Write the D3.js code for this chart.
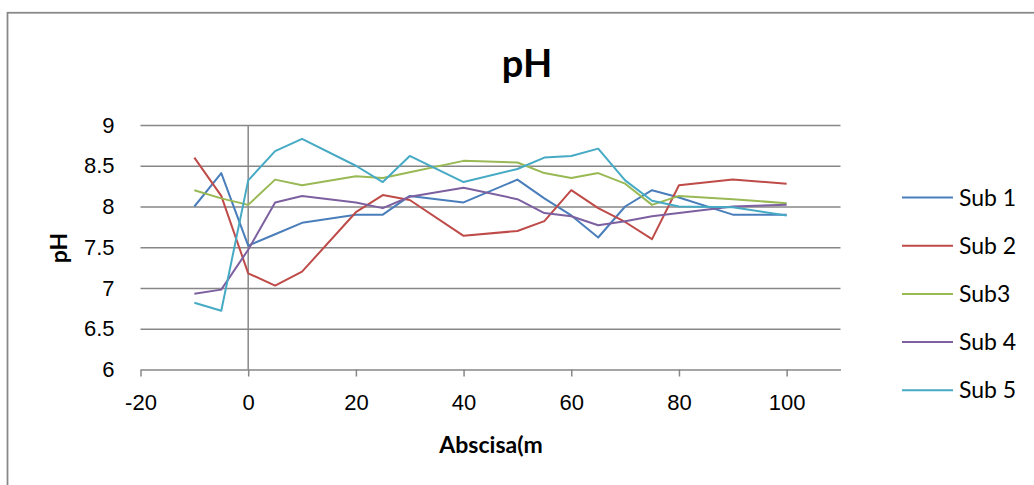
<!DOCTYPE html>
<html>
<head>
<meta charset="utf-8">
<script src="https://cdn.jsdelivr.net/npm/d3@7"></script>
<style>
  html, body { margin: 0; padding: 0; background: #fff; }
  svg { display: block; font-family: Lato, "Noto Sans", sans-serif; }
  .grid line { stroke: #878787; stroke-width: 1.5; }
  .grid .domain { display: none; }
  .axis text { font-size: 22px; fill: #000; }
  .axis line, .axis path { stroke: #878787; stroke-width: 1.5; }
</style>
</head>
<body>
<div id="chart"></div>
<script>
// abscisa (m) of the sampling points
const abscisa = [-10, -5, 0, 5, 10, 20, 25, 30, 40, 50, 55, 60, 65, 70, 75, 80, 90, 100];

const sub1 = [8.00, 8.41, 7.52, 7.66, 7.80, 7.90, 7.90, 8.13, 8.05, 8.33, 8.10, 7.89, 7.62, 8.00, 8.20, 8.11, 7.90, 7.90];
const sub2 = [8.60, 8.13, 7.18, 7.03, 7.20, 7.93, 8.14, 8.08, 7.64, 7.70, 7.82, 8.20, 7.98, 7.81, 7.60, 8.26, 8.33, 8.28];
const sub3 = [8.20, 8.10, 8.02, 8.33, 8.26, 8.37, 8.35, 8.42, 8.56, 8.54, 8.41, 8.35, 8.41, 8.28, 8.02, 8.13, 8.09, 8.04];
const sub4 = [6.93, 6.98, 7.47, 8.05, 8.13, 8.05, 7.98, 8.12, 8.23, 8.09, 7.92, 7.88, 7.77, 7.82, 7.88, 7.92, 8.00, 8.02];
const sub5 = [6.82, 6.72, 8.32, 8.68, 8.83, 8.50, 8.30, 8.62, 8.30, 8.46, 8.60, 8.62, 8.71, 8.32, 8.07, 8.00, 7.99, 7.89];

const seriesNames = ['Sub 1', 'Sub 2', 'Sub3', 'Sub 4', 'Sub 5'];
const seriesValues = [sub1, sub2, sub3, sub4, sub5];
const colors = ['#4a7ebb', '#be4b48', '#98b954', '#7d60a0', '#46aac5'];

const xTicks = [-20, 0, 20, 40, 60, 80, 100];
const yTicks = [6, 6.5, 7, 7.5, 8, 8.5, 9];

(function(){
  const W = 1034, H = 485;
  const plot = {left: 140.5, right: 840.5, top: 125, bottom: 369.5};

  const svg = d3.select('#chart').append('svg')
    .attr('width', W)
    .attr('height', H);

  // outer chart border (runs off the right and bottom edges)
  svg.append('rect')
    .attr('x', 7.5).attr('y', 12.75)
    .attr('width', 1100).attr('height', 600)
    .attr('fill', 'none')
    .attr('stroke', '#878787')
    .attr('stroke-width', 1.75);

  const x = d3.scaleLinear().domain([-20, 110]).range([plot.left, plot.right]);
  const y = d3.scaleLinear().domain([6, 9]).range([plot.bottom, plot.top]);

  // horizontal gridlines
  svg.append('g')
    .attr('class', 'grid')
    .attr('transform', 'translate(' + plot.left + ',0)')
    .call(d3.axisLeft(y)
      .tickValues(yTicks.filter(d => d > 6))
      .tickSize(-(plot.right - plot.left))
      .tickFormat(() => null)
    );

  // y labels sit on the low side, left of the plot area
  svg.append('g')
    .attr('class', 'axis axis--y')
    .attr('transform', 'translate(' + plot.left + ',0)')
    .call(d3.axisLeft(y)
      .tickValues(yTicks)
      .tickSize(0)
      .tickPadding(26)
      .tickFormat(d => String(d))
    )
    .call(g => g.select('.domain').remove());

  // vertical axis crossing at x = 0
  svg.append('line')
    .attr('x1', x(0)).attr('x2', x(0))
    .attr('y1', y(9)).attr('y2', plot.bottom)
    .attr('stroke', '#878787')
    .attr('stroke-width', 1.5);

  // x axis
  svg.append('g')
    .attr('class', 'axis axis--x')
    .attr('transform', 'translate(0,' + plot.bottom + ')')
    .call(d3.axisBottom(x)
      .tickValues(xTicks)
      .tickSize(7)
      .tickSizeOuter(0)
      .tickPadding(18)
      .tickFormat(d => String(d)) // plain hyphen, not the unicode minus
    );

  // series lines
  const line = d3.line()
    .x((d, i) => x(abscisa[i]))
    .y(d => y(d));

  svg.append('g')
    .attr('class', 'series')
    .selectAll('path')
    .data(seriesValues)
    .enter().append('path')
      .attr('d', line)
      .attr('fill', 'none')
      .attr('stroke', (d, i) => colors[i])
      .attr('stroke-width', 2)
      .attr('stroke-linejoin', 'round');

  // titles
  svg.append('text')
    .attr('x', 527).attr('y', 77)
    .attr('text-anchor', 'middle')
    .attr('font-size', 38).attr('font-weight', 'bold')
    .text('pH');

  svg.append('text')
    .attr('x', 491).attr('y', 453)
    .attr('text-anchor', 'middle')
    .attr('font-size', 23).attr('font-weight', 'bold')
    .text('Abscisa(m');

  svg.append('text')
    .attr('transform', 'translate(67,248) rotate(-90)')
    .attr('text-anchor', 'middle')
    .attr('font-size', 23).attr('font-weight', 'bold')
    .text('pH');

  // legend
  const legend = svg.append('g')
    .attr('class', 'legend')
    .selectAll('g')
    .data(seriesNames)
    .enter().append('g')
      .attr('transform', (d, i) => 'translate(902,' + (197.5 + i * 48.2) + ')');

  legend.append('line')
    .attr('x1', 0).attr('x2', 51)
    .attr('stroke', (d, i) => colors[i])
    .attr('stroke-width', 2);

  legend.append('text')
    .attr('x', 57).attr('dy', '0.35em')
    .attr('font-size', 23)
    .text(d => d);
})();
</script>
</body>
</html>
